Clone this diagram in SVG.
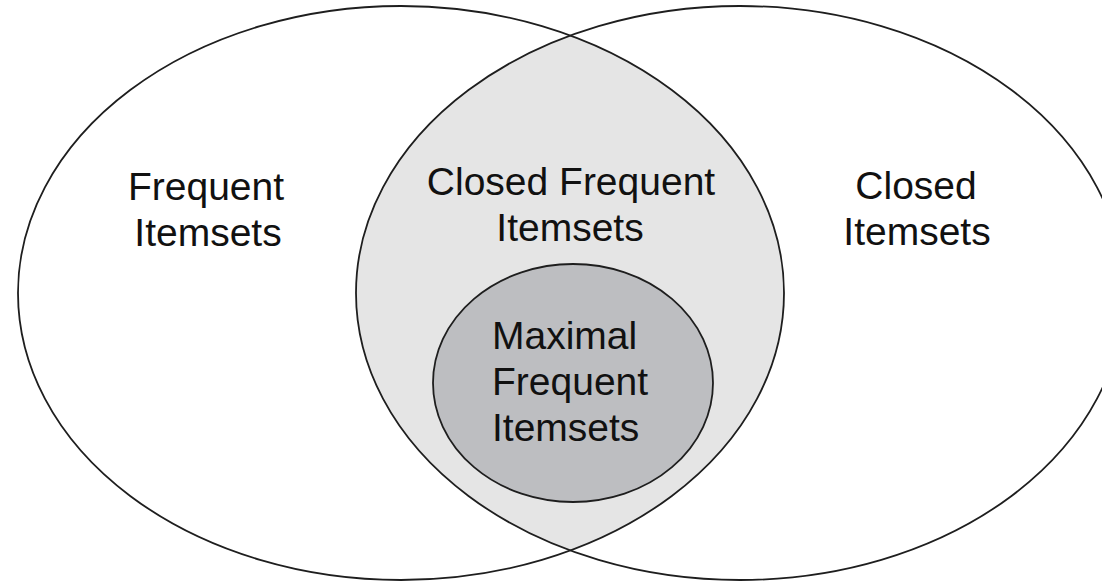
<svg xmlns="http://www.w3.org/2000/svg" width="1102" height="583" viewBox="0 0 1102 583">
  <style>
    .outline { fill: none; stroke: #1e1e1e; stroke-width: 1.8; }
    .label { font-family: "Liberation Sans", Arial, Helvetica, sans-serif; font-size: 39px; fill: #111; }
    .mid { text-anchor: middle; }
  </style>
  <defs>
    <clipPath id="clipLeft">
      <ellipse cx="401" cy="293" rx="383" ry="287"/>
    </clipPath>
  </defs>
  <rect x="0" y="0" width="1102" height="583" fill="#ffffff"/>
  <g id="closed-frequent-fill">
    <ellipse cx="740" cy="293" rx="384" ry="287" fill="#e5e5e5" clip-path="url(#clipLeft)"/>
  </g>
  <g id="frequent-itemsets">
    <ellipse class="outline" cx="401" cy="293" rx="383" ry="287"/>
    <text class="label mid" x="206" y="200">Frequent</text>
    <text class="label mid" x="208" y="246">Itemsets</text>
  </g>
  <g id="closed-itemsets">
    <ellipse class="outline" cx="740" cy="293" rx="384" ry="287"/>
    <text class="label mid" x="916" y="199">Closed</text>
    <text class="label mid" x="917" y="245">Itemsets</text>
  </g>
  <g id="closed-frequent-itemsets">
    <text class="label mid" x="571" y="195">Closed Frequent</text>
    <text class="label mid" x="570" y="241">Itemsets</text>
  </g>
  <g id="maximal-frequent-itemsets">
    <ellipse cx="573" cy="383" rx="140" ry="119" fill="#bdbec1" stroke="#1e1e1e" stroke-width="1.8"/>
    <text class="label" x="492" y="349">Maximal</text>
    <text class="label" x="492" y="395">Frequent</text>
    <text class="label" x="492" y="441">Itemsets</text>
  </g>
</svg>
